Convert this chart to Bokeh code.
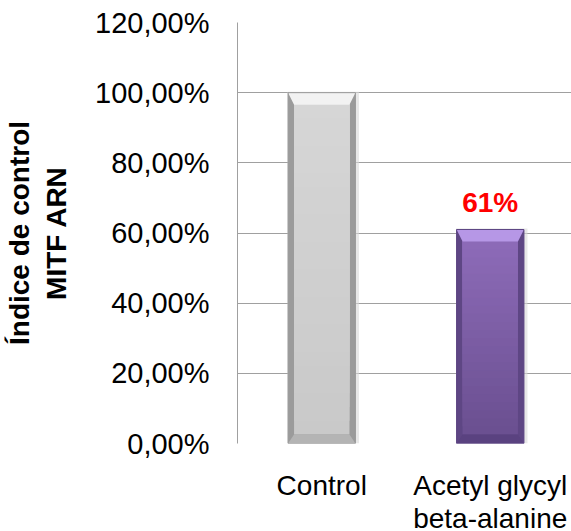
from bokeh.plotting import figure
from bokeh.layouts import column
from bokeh.models import Range1d, FixedTicker
from bokeh.core.properties import value
from bokeh.embed import file_html
from bokeh.resources import INLINE

# ---- data ----
categories = ["Control", "Acetyl glycyl\nbeta-alanine"]
values = [100, 61]
y_ticks = [0, 20, 40, 60, 80, 100, 120]
value_labels = ["", "61%"]
face_top = ["#d6d6d6", "#8d6bb8"]
face_bottom = ["#c9c9c9", "#6a4f90"]
edge_colors = ["#9b9b9b", "#5e4684"]
bevel_top = ["#f2f2f2", "#b697e6"]
bevel_bottom = ["#b4b4b4", "#5a4280"]

FONT = "Liberation Sans"
W, H = 571, 531
LEFT, TOP, BOTTOM = 237, 22, 17
MAIN_H = 460          # chart panel; category strip below it
STRIP_H = H - MAIN_H
CAT_PX = 168.5
x_end = (W - LEFT) / CAT_PX

p = figure(width=W, height=MAIN_H, output_backend="svg", toolbar_location=None,
           x_range=Range1d(0, x_end), y_range=Range1d(0, 120),
           min_border_left=LEFT, min_border_top=TOP, min_border_bottom=BOTTOM,
           min_border_right=0, background_fill_color="white",
           border_fill_color="white", outline_line_color=None)

frame_h = MAIN_H - TOP - BOTTOM
px_y = 120 / frame_h      # data units per pixel, vertical
px_x = 1 / CAT_PX         # data units per pixel, horizontal


def hex_mix(c1, c2, t):
    a = [int(c1[i:i + 2], 16) for i in (1, 3, 5)]
    b = [int(c2[i:i + 2], 16) for i in (1, 3, 5)]
    return "#%02x%02x%02x" % tuple(round(a[k] + (b[k] - a[k]) * t) for k in range(3))


bar_w = 0.4
edge = 6 * px_x
bt = 12 * px_y
bb = 9 * px_y
xs = [i + 0.5 for i in range(len(categories))]

for i, (xc, v) in enumerate(zip(xs, values)):
    # soft shadow
    p.vbar(x=[xc + 1.5 * px_x], width=bar_w + 4 * px_x, top=[v + 1 * px_y], bottom=0,
           fill_color="#d8d8d8", fill_alpha=0.6, line_color=None)
    # side edges
    p.vbar(x=[xc], width=bar_w, top=[v], bottom=0,
           fill_color=edge_colors[i], line_color=None)
    # vertical gradient of the face, painted in overlapping bands
    n = 24
    lo, hi = bb, v - bt
    for k in range(n):
        b0 = lo + (hi - lo) * k / n
        c = hex_mix(face_bottom[i], face_top[i], (k + 0.5) / n)
        p.vbar(x=[xc], width=bar_w - 2 * edge, top=[hi], bottom=[b0],
               fill_color=c, line_color=None)
    # top and bottom bevels
    xl, xr = xc - bar_w / 2, xc + bar_w / 2
    p.patch([xl, xr, xr - edge, xl + edge], [v, v, v - bt, v - bt],
            fill_color=bevel_top[i], line_color=None)
    p.patch([xl, xr, xr - edge, xl + edge], [0, 0, bb, bb],
            fill_color=bevel_bottom[i], line_color=None)
    # thin outline
    p.vbar(x=[xc], width=bar_w, top=[v], bottom=0, fill_color=None,
           line_color=edge_colors[i], line_width=1)

# value label
p.text(x=[xs[1]], y=[values[1]], text=[value_labels[1]], text_align="center",
       text_baseline="alphabetic", y_offset=-27, text_color="#ff0000",
       text_font=value(FONT), text_font_style="bold", text_font_size="28px")

# grid (the 0 line doubles as the baseline)
p.xgrid.grid_line_color = None
p.ygrid.grid_line_color = "#a0a0a0"
p.ygrid.grid_line_width = 1
p.ygrid.ticker = FixedTicker(ticks=y_ticks)
p.xaxis.visible = False

# y axis
p.yaxis.ticker = FixedTicker(ticks=y_ticks)
p.yaxis.major_label_overrides = {t: f"{t:.2f}".replace(".", ",") + "%" for t in y_ticks}
p.yaxis.major_tick_line_color = None
p.yaxis.minor_tick_line_color = None
p.yaxis.axis_line_color = "#a0a0a0"
p.yaxis.major_label_standoff = 22
p.yaxis.major_label_text_font = FONT
p.yaxis.major_label_text_font_size = "29px"
p.yaxis.major_label_text_color = "#000000"
p.yaxis.axis_label = "Índice de control\nMITF ARN"
p.yaxis.axis_label_text_font = FONT
p.yaxis.axis_label_text_font_style = "bold"
p.yaxis.axis_label_text_font_size = "28px"
p.yaxis.axis_label_text_color = "#000000"
p.yaxis.axis_label_text_line_height = 1.2
p.yaxis.axis_label_standoff = 20

# category strip under the chart, sharing the x range
s = figure(width=W, height=STRIP_H, output_backend="svg", toolbar_location=None,
           x_range=p.x_range, y_range=Range1d(STRIP_H, 0),
           x_axis_location=None, y_axis_location=None,
           min_border_left=LEFT, min_border_top=0, min_border_bottom=0,
           min_border_right=0, background_fill_color="white",
           border_fill_color="white", outline_line_color=None)
s.xgrid.grid_line_color = None
s.ygrid.grid_line_color = None

first_baseline = 485 - MAIN_H
line_step = 33
for xc, cat in zip(xs, categories):
    for j, line in enumerate(cat.split("\n")):
        s.text(x=[xc], y=[first_baseline + line_step * j], text=[line],
               text_align="center", text_baseline="alphabetic",
               text_font=value(FONT), text_font_size="28px", text_color="#000000")

layout = column(p, s, spacing=0)
open("out.html", "w").write(file_html(layout, INLINE))
